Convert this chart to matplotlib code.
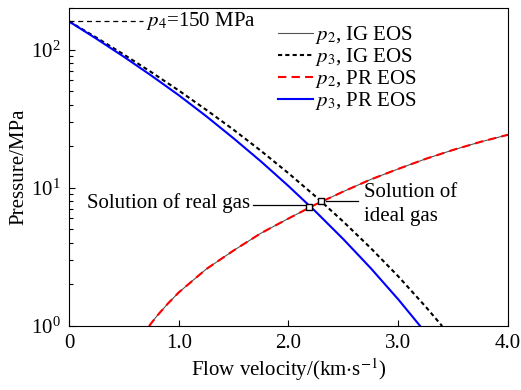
import matplotlib
matplotlib.use("Agg")
import matplotlib.pyplot as plt

plt.rcParams.update({"font.family": "Liberation Serif", "mathtext.fontset": "stix",
                     "font.size": 15})

# ── Data ─────────────────────────────────────────────────────────────────────
u_p3 = [0.0, 0.25, 0.5, 0.75, 1.0, 1.25, 1.5, 1.75, 2.0, 2.25, 2.5, 2.75, 3.0, 3.25, 3.4]
p3_ig = [160, 122.1, 92.1, 68.7, 50.6, 36.7, 26.3, 18.5, 12.75, 8.62, 5.69, 3.66, 2.29, 1.38, 1.0]

u_p3_pr = [0.0, 0.25, 0.5, 0.75, 1.0, 1.25, 1.5, 1.75, 2.0, 2.25, 2.5, 2.75, 3.0, 3.2]
p3_pr = [160, 119.8, 88.8, 64.9, 46.8, 33.0, 22.8, 15.5, 10.3, 6.7, 4.25, 2.62, 1.56, 1.0]

u_p2 = [0.73, 0.8, 0.9, 1.0, 1.25, 1.5, 1.75, 2.0, 2.25, 2.5, 2.75, 3.0, 3.25, 3.5, 3.75, 4.0]
p2 = [1.0, 1.18, 1.45, 1.75, 2.58, 3.52, 4.7, 6.0, 7.6, 9.4, 11.5, 13.7, 16.2, 18.8, 21.5, 24.2]

sol_real = (2.19, 7.32)
sol_ideal = (2.30, 8.09)
p4 = 160

fig = plt.figure(figsize=(5.21, 3.9), dpi=100)
ax = fig.add_axes([0.1324, 0.164, 0.8426, 0.8155])

ax.plot(u_p2, p2, color="#555555", lw=0.8, label=r"$p_2$, IG EOS")
ax.plot(u_p3, p3_ig, color="black", lw=1.5, linestyle=(0, (2, 1.5)), label=r"$p_3$, IG EOS")
ax.plot(u_p2, p2, color="red", lw=1.5, linestyle=(0, (4, 2.5)), label=r"$p_2$, PR EOS")
ax.plot(u_p3_pr, p3_pr, color="blue", lw=1.5, label=r"$p_3$, PR EOS")

# p4 marker line
ax.plot([0, 0.67], [p4, p4], color="black", lw=0.9, linestyle=(0, (4, 3)))
ax.text(0.70, p4, r"$p_4$=150 MPa", va="center", ha="left")

# solutions
for pt in (sol_real, sol_ideal):
    ax.plot(*pt, marker="s", ms=4, mfc="white", mec="black", mew=1.0, zorder=6)
ax.plot([1.68, 2.15], [sol_real[1] * 1.02, sol_real[1] * 1.02], color="black", lw=0.9)
ax.text(0.16, sol_real[1] * 1.065, "Solution of real gas", va="center", ha="left")
ax.plot([2.34, 2.63], [sol_ideal[1], sol_ideal[1]], color="black", lw=0.9)
ax.text(2.69, sol_ideal[1] * 0.93, "Solution of\nideal gas", va="center", ha="left",
        linespacing=1.35)

ax.set_yscale("log")
ax.set_xlim(0, 4.0)
ax.set_ylim(1, 200)
ax.set_xticks([0, 1, 2, 3, 4])
ax.set_xticklabels(["0", "1.0", "2.0", "3.0", "4.0"])
ax.tick_params(which="both", direction="in", top=False, right=False)
ax.tick_params(which="major", length=4, width=0.8, labelsize=15, pad=6)
ax.tick_params(which="minor", length=3, width=0.8)
ax.set_xlabel(r"Flow velocity/(km$\cdot$s$^{-1}$)", labelpad=2)
ax.set_ylabel("Pressure/MPa", labelpad=2)

ax.legend(loc="upper left", bbox_to_anchor=(0.476, 0.95), frameon=False,
          handlelength=1.7, handletextpad=0.1, labelspacing=0.0, borderpad=0, borderaxespad=0)

fig.savefig("out.png", dpi=100)
